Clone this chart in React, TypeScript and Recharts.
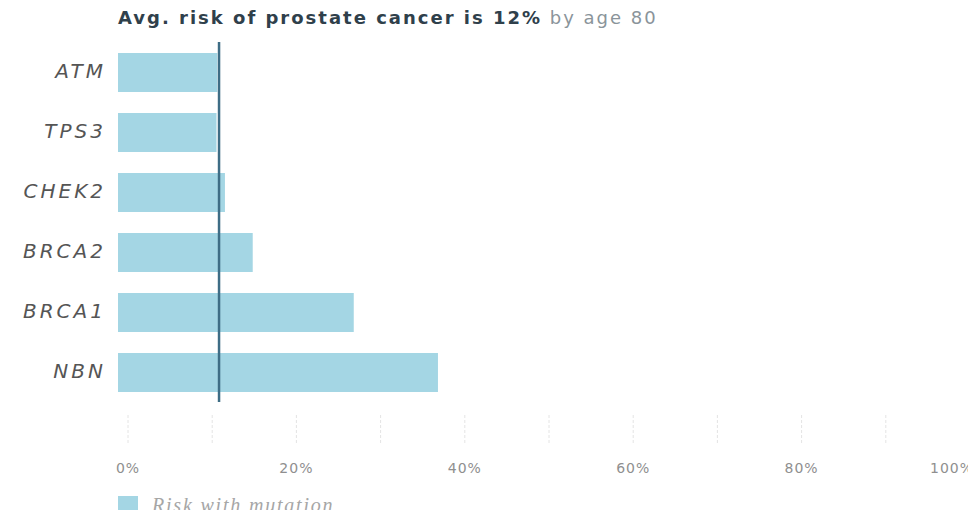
import React from 'react';
import { BarChart, Bar, XAxis, YAxis, ReferenceLine } from 'recharts';

// Genes and lifetime prostate-cancer risk (%) with a mutation
const genes = ['ATM', 'TPS3', 'CHEK2', 'BRCA2', 'BRCA1', 'NBN'];
const riskWithMutation = [11.8, 11.7, 12.7, 16, 28, 38];
const averageRisk = 12;
const xTicks = [0, 10, 20, 30, 40, 50, 60, 70, 80, 90, 100];
const labelledTicks = [0, 20, 40, 60, 80, 100];

const data = genes.map((gene, i) => ({ gene, risk: riskWithMutation[i] }));

const BAR_COLOR = '#a4d6e4';
const LINE_COLOR = '#3e6d85';
const TICK_SHIFT = 10;
const CHART_WIDTH = 976;

const PercentTick = (props: any) => {
  const { x, y, payload } = props;
  const cx = x + TICK_SHIFT;
  const v = payload.value as number;
  // keep the last label inside the right edge
  const atEdge = cx + 24 > CHART_WIDTH;
  return (
    <g>
      <line x1={cx} x2={cx} y1={y + 13} y2={y + 43} stroke="#e4e4e4" strokeDasharray="3 2" />
      {labelledTicks.includes(v) && (
        <text
          x={atEdge ? CHART_WIDTH - 2 : cx}
          y={y + 67}
          textAnchor={atEdge ? 'end' : 'middle'}
          dominantBaseline="middle"
          fontFamily="DejaVu Sans"
          fontSize={14}
          letterSpacing={1}
          fill="#8f8f8f"
        >
          {`${v}%`}
        </text>
      )}
    </g>
  );
};

const GeneTick = (props: any) => {
  const { x, y, payload } = props;
  return (
    <text
      x={x}
      y={y}
      textAnchor="end"
      dominantBaseline="middle"
      fontFamily="DejaVu Sans"
      fontStyle="italic"
      fontSize={20}
      letterSpacing={3}
      fill="#555555"
    >
      {payload.value}
    </text>
  );
};

export default function App() {
  return (
    <div style={{ position: 'relative', margin: -8, width: CHART_WIDTH, height: 518, background: '#fff' }}>
      <div
        style={{
          position: 'absolute',
          left: 118,
          top: 7,
          height: 22,
          lineHeight: '22px',
          fontFamily: 'DejaVu Sans',
          fontSize: 18,
          letterSpacing: 2,
          whiteSpace: 'nowrap',
        }}
      >
        <span style={{ fontWeight: 700, color: '#2f404b' }}>Avg. risk of prostate cancer is 12%</span>
        <span style={{ color: '#8a949a' }}> by age 80</span>
      </div>

      <BarChart
        width={CHART_WIDTH}
        height={518}
        data={data}
        layout="vertical"
        margin={{ top: 42, right: 16, bottom: 36, left: 0 }}
      >
        <XAxis
          type="number"
          domain={[0, 100]}
          ticks={xTicks}
          axisLine={false}
          tickLine={false}
          tickSize={0}
          tickMargin={0}
          height={80}
          interval={0}
          tick={<PercentTick />}
        />
        <YAxis
          type="category"
          dataKey="gene"
          width={118}
          axisLine={false}
          tickLine={false}
          tickSize={0}
          tickMargin={12}
          interval={0}
          tick={<GeneTick />}
        />
        <Bar dataKey="risk" fill={BAR_COLOR} barSize={39} isAnimationActive={false} />
        <ReferenceLine x={averageRisk} stroke={LINE_COLOR} strokeWidth={2.5} />
      </BarChart>

      <div style={{ position: 'absolute', left: 118, top: 496, width: 20, height: 20, background: BAR_COLOR }} />
      <div
        style={{
          position: 'absolute',
          left: 152,
          top: 494,
          height: 22,
          lineHeight: '22px',
          fontFamily: 'Liberation Serif',
          fontStyle: 'italic',
          fontSize: 20,
          letterSpacing: 1.8,
          color: '#a6a6a6',
          whiteSpace: 'nowrap',
        }}
      >
        Risk with mutation
      </div>
    </div>
  );
}
